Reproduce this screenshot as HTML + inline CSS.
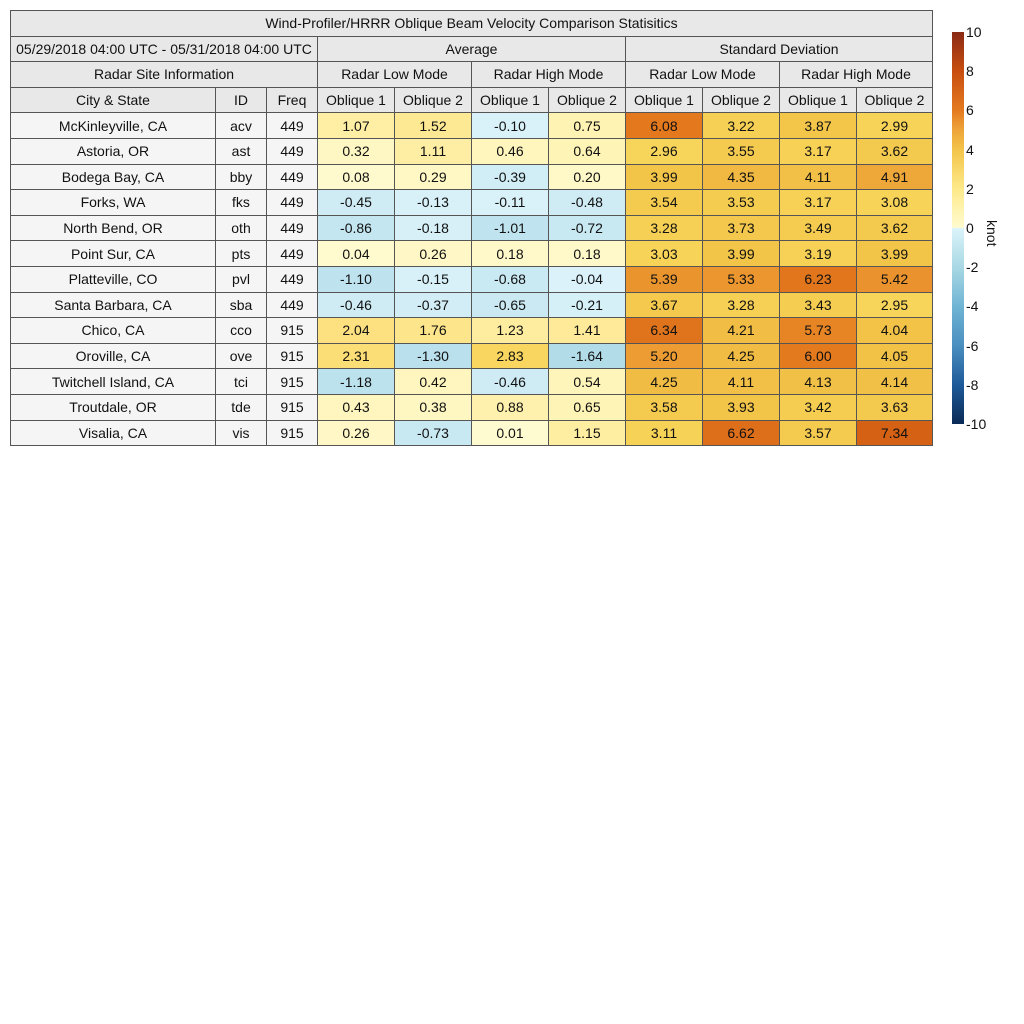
<!DOCTYPE html>
<html><head><meta charset="utf-8"><style>
body{margin:0;background:#fff;width:1024px;height:1024px;position:relative;font-family:"Liberation Sans",sans-serif;font-size:14px;color:#111}
.c{position:absolute;box-sizing:border-box;border:1px solid #555;display:flex;align-items:center;justify-content:center;white-space:nowrap;overflow:hidden}
.t{position:absolute;font-size:14px}
</style></head><body>
<div id="tb"></div>
<div style="position:absolute;left:952px;top:32px;width:12px;height:392px;background:linear-gradient(to bottom,#8a2a15 0%,#c84e10 10%,#e47a20 20%,#eea43a 25%,#f3c44a 30%,#fde98a 40%,#fffbd0 49.9%,#dcf3fa 50.1%,#a8d8e4 60%,#70b4d4 70%,#4a8fc0 80%,#1e5a9a 90%,#0a2a55 100%)"></div>
<div id="cb"></div>
<div class="t" style="left:978px;top:220px;transform:rotate(90deg);transform-origin:left top;left:1000px">knot</div>
<script>
var cols=[10,215,266,317,394,471,548,625,702,779,856,932];
var R=function(i){return 10+i*25.6};
var tb=document.getElementById('tb');
function cell(x1,x2,r1,r2,txt,bg){var d=document.createElement('div');d.className='c';d.style.left=x1+'px';d.style.top=R(r1)+'px';d.style.width=(x2-x1+1)+'px';d.style.height=(R(r2)-R(r1)+1)+'px';d.style.background=bg;d.textContent=txt;tb.appendChild(d);}
function lerp(a,b,t){return a.map(function(v,i){return Math.round(v+(b[i]-v)*t)})}
var pos=[[0,[255,251,208]],[1,[254,240,168]],[2,[253,226,130]],[3,[247,212,88]],[4,[242,196,72]],[5,[238,164,56]],[6,[228,122,30]],[8,[206,84,16]],[10,[138,42,21]]];
var neg=[[0,[220,243,250]],[1,[192,228,239]],[2,[168,216,228]],[4,[112,180,212]],[6,[74,143,192]],[8,[30,90,154]],[10,[10,42,85]]];
function col(v){var s=v<0?neg:pos,a=Math.abs(v);for(var i=0;i<s.length-1;i++){if(a<=s[i+1][0]){var c=lerp(s[i][1],s[i+1][1],(a-s[i][0])/(s[i+1][0]-s[i][0]));return 'rgb('+c+')';}}return 'rgb('+s[s.length-1][1]+')';}
var H='#e8e8e8',L='#f5f5f5';
cell(10,932,0,1,'Wind-Profiler/HRRR Oblique Beam Velocity Comparison Statisitics',H);
cell(10,317,1,2,'05/29/2018 04:00 UTC - 05/31/2018 04:00 UTC',H);
cell(317,625,1,2,'Average',H);cell(625,932,1,2,'Standard Deviation',H);
cell(10,317,2,3,'Radar Site Information',H);
['Radar Low Mode','Radar High Mode','Radar Low Mode','Radar High Mode'].forEach(function(t,i){cell(cols[3+2*i],cols[5+2*i],2,3,t,H)});
cell(10,215,3,4,'City & State',H);cell(215,266,3,4,'ID',H);cell(266,317,3,4,'Freq',H);
for(var i=0;i<8;i++)cell(cols[3+i],cols[4+i],3,4,'Oblique '+(i%2+1),H);
var D=[['McKinleyville, CA','acv',449,1.07,1.52,-0.10,0.75,6.08,3.22,3.87,2.99],
['Astoria, OR','ast',449,0.32,1.11,0.46,0.64,2.96,3.55,3.17,3.62],
['Bodega Bay, CA','bby',449,0.08,0.29,-0.39,0.20,3.99,4.35,4.11,4.91],
['Forks, WA','fks',449,-0.45,-0.13,-0.11,-0.48,3.54,3.53,3.17,3.08],
['North Bend, OR','oth',449,-0.86,-0.18,-1.01,-0.72,3.28,3.73,3.49,3.62],
['Point Sur, CA','pts',449,0.04,0.26,0.18,0.18,3.03,3.99,3.19,3.99],
['Platteville, CO','pvl',449,-1.10,-0.15,-0.68,-0.04,5.39,5.33,6.23,5.42],
['Santa Barbara, CA','sba',449,-0.46,-0.37,-0.65,-0.21,3.67,3.28,3.43,2.95],
['Chico, CA','cco',915,2.04,1.76,1.23,1.41,6.34,4.21,5.73,4.04],
['Oroville, CA','ove',915,2.31,-1.30,2.83,-1.64,5.20,4.25,6.00,4.05],
['Twitchell Island, CA','tci',915,-1.18,0.42,-0.46,0.54,4.25,4.11,4.13,4.14],
['Troutdale, OR','tde',915,0.43,0.38,0.88,0.65,3.58,3.93,3.42,3.63],
['Visalia, CA','vis',915,0.26,-0.73,0.01,1.15,3.11,6.62,3.57,7.34]];
D.forEach(function(r,j){var a=4+j,b=5+j;cell(10,215,a,b,r[0],L);cell(215,266,a,b,r[1],L);cell(266,317,a,b,r[2],L);
for(var i=0;i<8;i++)cell(cols[3+i],cols[4+i],a,b,r[3+i].toFixed(2),col(r[3+i]));});
var cb=document.getElementById('cb');
for(var v=10;v>=-10;v-=2){var d=document.createElement('div');d.className='t';d.style.left='966px';d.style.top=(32+(10-v)/20*392-8)+'px';d.textContent=v;cb.appendChild(d);}
</script>
</body></html>
